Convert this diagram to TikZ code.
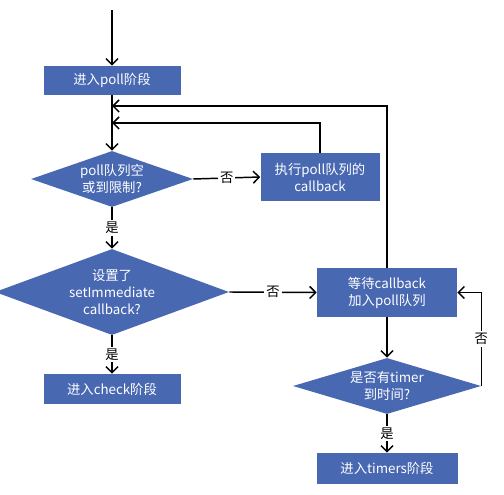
\documentclass[tikz,border=0pt]{standalone}
\usepackage{fontspec}
\setmainfont{Noto Sans CJK SC}
\usetikzlibrary{shapes.geometric,arrows.meta}
\definecolor{boxblue}{RGB}{72,104,178}
\begin{document}
\begin{tikzpicture}[x=0.75pt,y=-0.75pt,
  every node/.style={font=\fontsize{10}{12.75}\selectfont},
  procbox/.style={rectangle,fill=boxblue,text=white,align=center,inner sep=0pt},
  decision/.style={diamond,fill=boxblue,text=white,align=center,inner sep=0pt},
  arr/.style={line width=1.1pt,-{Straight Barb[length=4.5pt,width=9pt,line width=1.1pt]}},
  lbl/.style={fill=white,text=black,inner sep=1.5pt}]
\path[use as bounding box] (0,0) rectangle (504,495);
\begin{scope}
\clip (0,0) rectangle (504,495);
\coordinate (start) at (112,10);
\node[procbox,minimum width=102.75pt,minimum height=21.75pt] (b1) at (112,80.5) {进入poll阶段};
\node[decision,minimum width=121.5pt,minimum height=42pt,aspect=2.9] (d1) at (112,179) {poll队列空\\或到限制?};
\node[procbox,minimum width=89.25pt,minimum height=36pt] (b2) at (320,177) {执行poll队列的\\callback};
\node[decision,minimum width=175.5pt,minimum height=64.5pt,aspect=2.7] (d2) at (112,292) {设置了\\setImmediate\\callback?};
\node[procbox,minimum width=105pt,minimum height=36.75pt] (b3) at (387,292.5) {等待callback\\加入poll队列};
\node[procbox,minimum width=102.75pt,minimum height=22.5pt] (b4) at (112,389) {进入check阶段};
\node[decision,minimum width=141pt,minimum height=42pt,aspect=3.4] (d3) at (387,386) {是否有timer\\到时间?};
\node[procbox,minimum width=105.75pt,minimum height=23.25pt] (b5) at (387,468.5) {进入timers阶段};
\coordinate (j1) at (112,106);
\coordinate (j2) at (112,123);
\end{scope}
\draw[arr] (start) -- (b1.north);
\draw[arr] (b1.south) -- (d1.north);
\draw[arr] (b3.north) |- (j1);
\draw[arr] (b2.north) |- (j2);
\draw[arr] (d1.east) -- node[lbl]{否} (b2.west);
\draw[arr] (d1.south) -- node[lbl]{是} (d2.north);
\draw[arr] (d2.east) -- node[lbl]{否} (b3.west);
\draw[arr] (d2.south) -- node[lbl]{是} (b4.north);
\draw[arr] (b3.south) -- (d3.north);
\draw[arr] (d3.east) -- ++(0,0) |- node[lbl,pos=0.25]{否} (b3.east);
\draw[arr] (d3.south) -- node[lbl]{是} (b5.north);
\end{tikzpicture}
\end{document}
